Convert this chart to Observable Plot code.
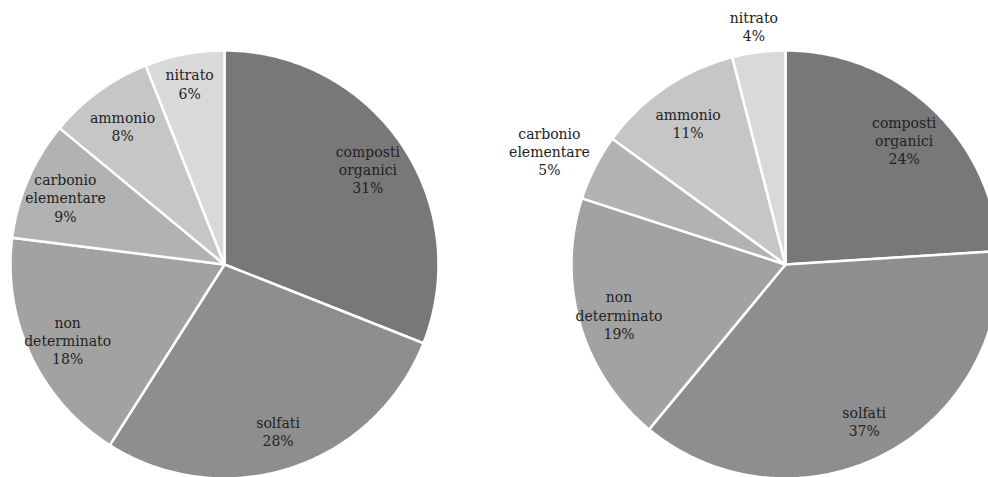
<!DOCTYPE html>
<html>
<head>
<meta charset="utf-8">
<script src="https://cdn.jsdelivr.net/npm/d3@7"></script>
<script src="https://cdn.jsdelivr.net/npm/@observablehq/plot@0.6"></script>
<style>
  html, body { margin: 0; padding: 0; background: #fff; }
  #chart svg { display: block; }
</style>
</head>
<body>
<div id="chart"></div>
<script>
// Components (clockwise from 12 o'clock)
const categories = ["composti organici", "solfati", "non determinato", "carbonio elementare", "ammonio", "nitrato"];
const labelLines = [["composti", "organici"], ["solfati"], ["non", "determinato"], ["carbonio", "elementare"], ["ammonio"], ["nitrato"]];
const valuesLeft = [31, 28, 18, 9, 8, 6];
const valuesRight = [24, 37, 19, 5, 11, 4];
const colors = ["#787878", "#8e8e8e", "#a2a2a2", "#b2b2b2", "#c6c6c6", "#d9d9d9"];

const W = 988, H = 477;
const R = 214;
const pies = [
  {values: valuesLeft, cx: 224, cy: 264},
  {values: valuesRight, cx: 785, cy: 264}
];

const slicePts = [];
const labels = [];
pies.forEach((p, pi) => {
  const arcs = d3.pie().sort(null).value(d => d)(p.values);
  arcs.forEach((a, i) => {
    const id = pi + "-" + i;
    const n = Math.max(2, Math.ceil((a.endAngle - a.startAngle) / 0.01));
    slicePts.push({id, cat: categories[i], x: p.cx, y: p.cy});
    for (let k = 0; k <= n; k++) {
      const t = a.startAngle + (a.endAngle - a.startAngle) * k / n;
      slicePts.push({id, cat: categories[i], x: p.cx + R * Math.sin(t), y: p.cy - R * Math.cos(t)});
    }
    slicePts.push({id, cat: categories[i], x: p.cx, y: p.cy});
    const mid = (a.startAngle + a.endAngle) / 2;
    const lines = [...labelLines[i], a.value + "%"];
    let lx, ly;
    if (a.value < 6) {
      const maxLen = d3.max(lines, s => s.length) * 8.6 / 2;
      const hh = lines.length * 18 / 2;
      const rr = R + 8;
      lx = p.cx + rr * Math.sin(mid) + maxLen * Math.sin(mid);
      ly = p.cy - rr * Math.cos(mid) - hh * Math.cos(mid);
    } else {
      const rr = R * (a.value < 7 ? 0.87 : 0.81);
      lx = p.cx + rr * Math.sin(mid);
      ly = p.cy - rr * Math.cos(mid) + 2;
    }
    labels.push({x: lx, y: ly, text: lines.join("\n")});
  });
});

const chart = Plot.plot({
  width: W,
  height: H,
  margin: 0,
  x: {domain: [0, W], range: [0, W], axis: null},
  y: {domain: [0, H], range: [0, H], axis: null},
  color: {domain: categories, range: colors},
  style: {fontFamily: "'DejaVu Serif', serif", background: "#fff"},
  marks: [
    Plot.line(slicePts, {x: "x", y: "y", z: "id", fill: "cat", stroke: "#fff", strokeWidth: 2.5, strokeLinejoin: "round", curve: "linear"}),
    Plot.text(labels, {x: "x", y: "y", text: "text", fontSize: 14, lineHeight: 1.3, fill: "#222", textAnchor: "middle"})
  ]
});
document.getElementById("chart").appendChild(chart);
</script>
</body>
</html>
